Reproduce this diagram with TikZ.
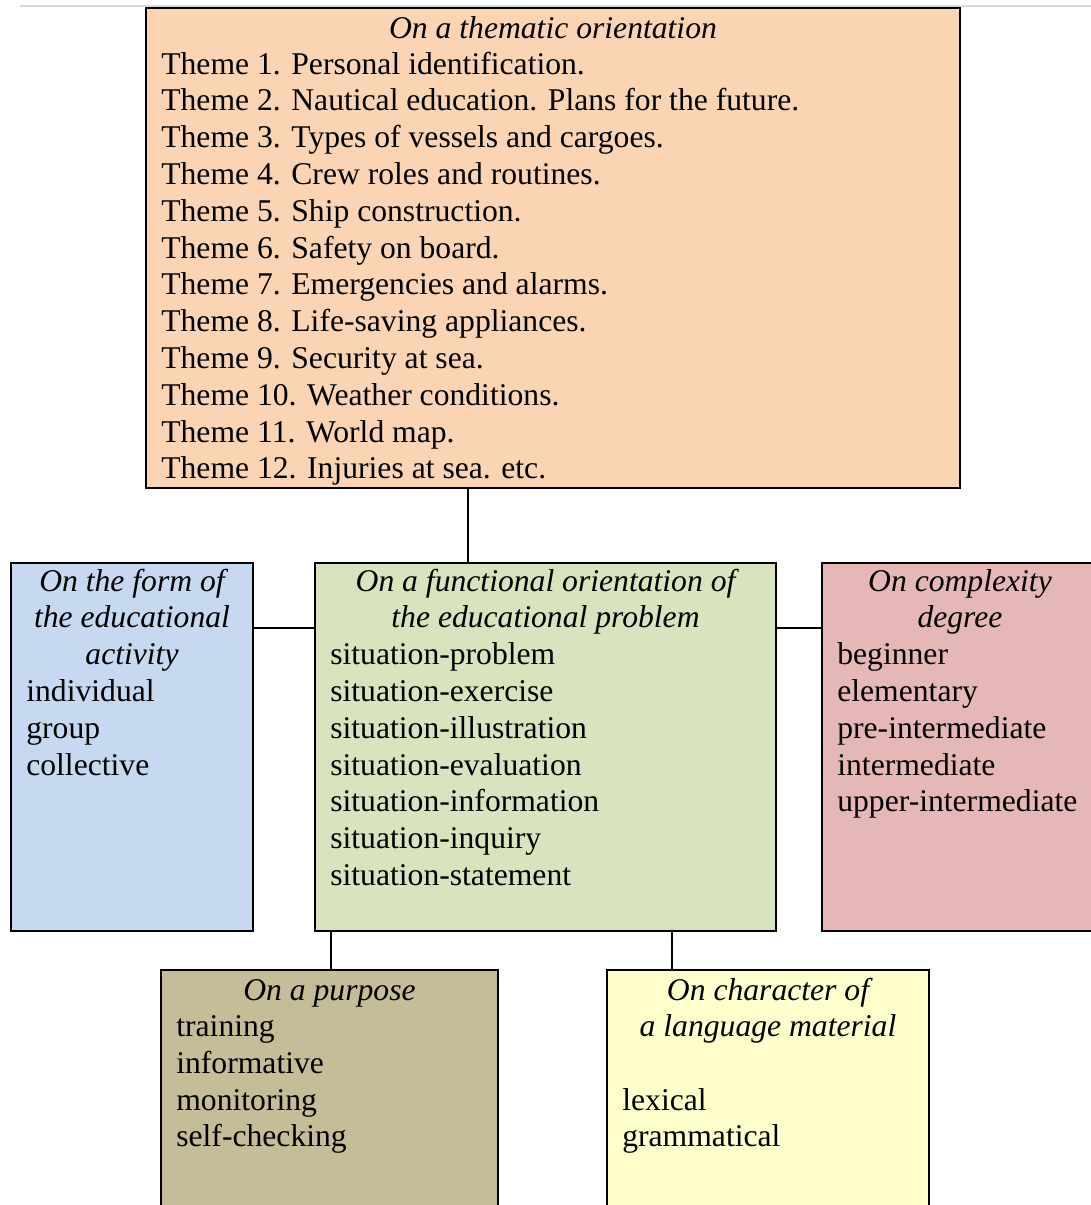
\documentclass[tikz,border=0pt]{standalone}
\usepackage{fontspec}
\setmainfont{Liberation Serif}
\usetikzlibrary{fit}

\definecolor{peach}{HTML}{FBD4B4}
\definecolor{skyblue}{HTML}{C6D9F1}
\definecolor{sage}{HTML}{D7E4BD}
\definecolor{rose}{HTML}{E5B8B7}
\definecolor{khaki}{HTML}{C4BD97}
\definecolor{lemon}{HTML}{FFFFCC}

\begin{document}
\begin{tikzpicture}[x=0.025cm,y=-0.025cm,line width=1.9pt]

	\tikzstyle{box}=[rectangle,draw=black,inner sep=0pt]
	\tikzstyle{head}=[font=\fontsize{22.5}{26.1}\selectfont\itshape,anchor=base,inner sep=0pt]
	\tikzstyle{item}=[font=\fontsize{22.5}{26.1}\selectfont,anchor=base west,inner sep=0pt]

	\useasboundingbox (0,0) rectangle (1091,1205);
	\clip (0,0) rectangle (1091,1205);
	\draw [line width=0.8pt,black!15] (20,6) -- (1091,6);

	% the boxes
	\node [box,fill=peach,fit={(146,8) (960,488)}] (theme) {};
	\node [box,fill=skyblue,fit={(11,563) (253,931)}] (form) {};
	\node [box,fill=sage,fit={(315,563) (776,931)}] (func) {};
	\node [box,fill=rose,fit={(822,563) (1100,931)}] (cplx) {};
	\node [box,fill=khaki,fit={(161,970) (498,1240)}] (purp) {};
	\node [box,fill=lemon,fit={(607,970) (929,1240)}] (lang) {};

	% links
	\draw (theme.south -| 468,0) -- (func.north -| 468,0);
	\draw (form.east |- 0,628) -- (func.west |- 0,628);
	\draw (func.east |- 0,628) -- (cplx.west |- 0,628);
	\draw (func.south -| 331,0) -- (purp.north -| 331,0);
	\draw (func.south -| 672,0) -- (lang.north -| 672,0);

	% thematic orientation
	\node [head] (themehd) at (553,38) {On a thematic orientation};
	\foreach \t [count=\i] in {Theme 1. Personal identification.,
		Theme 2. Nautical education. Plans for the future.,
		Theme 3. Types of vessels and cargoes.,
		Theme 4. Crew roles and routines.,
		Theme 5. Ship construction.,
		Theme 6. Safety on board.,
		Theme 7. Emergencies and alarms.,
		Theme 8. Life-saving appliances.,
		Theme 9. Security at sea.,
		Theme 10. Weather conditions.,
		Theme 11. World map.,
		Theme 12. Injuries at sea. etc.}
		\node [item] (th\i) at (160,{74+36.8*(\i-1)}) {\t};

	% form of the activity
	\foreach \t [count=\i] in {On the form of,the educational,activity}
		\node [head] (formhd\i) at (132,{591+36.8*(\i-1)}) {\t};
	\foreach \t [count=\i] in {individual,group,collective}
		\node [item] (fm\i) at (25,{701.4+36.8*(\i-1)}) {\t};

	% functional orientation
	\foreach \t [count=\i] in {On a functional orientation of,the educational problem}
		\node [head] (funchd\i) at (545.5,{591+36.8*(\i-1)}) {\t};
	\foreach \t [count=\i] in {situation-problem,situation-exercise,situation-illustration,
		situation-evaluation,situation-information,situation-inquiry,situation-statement}
		\node [item] (fn\i) at (329,{664.6+36.8*(\i-1)}) {\t};

	% complexity degree
	\foreach \t [count=\i] in {On complexity,degree}
		\node [head] (cplxhd\i) at (960,{591+36.8*(\i-1)}) {\t};
	\foreach \t [count=\i] in {beginner,elementary,pre-intermediate,intermediate,upper-intermediate}
		\node [item] (cx\i) at (836,{664.6+36.8*(\i-1)}) {\t};

	% purpose
	\node [head] (purphd) at (329.5,1000) {On a purpose};
	\foreach \t [count=\i] in {training,informative,monitoring,self-checking}
		\node [item] (pp\i) at (175,{1036.4+36.8*(\i-1)}) {\t};

	% language material
	\foreach \t [count=\i] in {On character of,a language material}
		\node [head] (langhd\i) at (768,{1000+36.8*(\i-1)}) {\t};
	\foreach \t [count=\i] in {lexical,grammatical}
		\node [item] (lg\i) at (621,{1110+36.8*(\i-1)}) {\t};

\end{tikzpicture}
\end{document}
